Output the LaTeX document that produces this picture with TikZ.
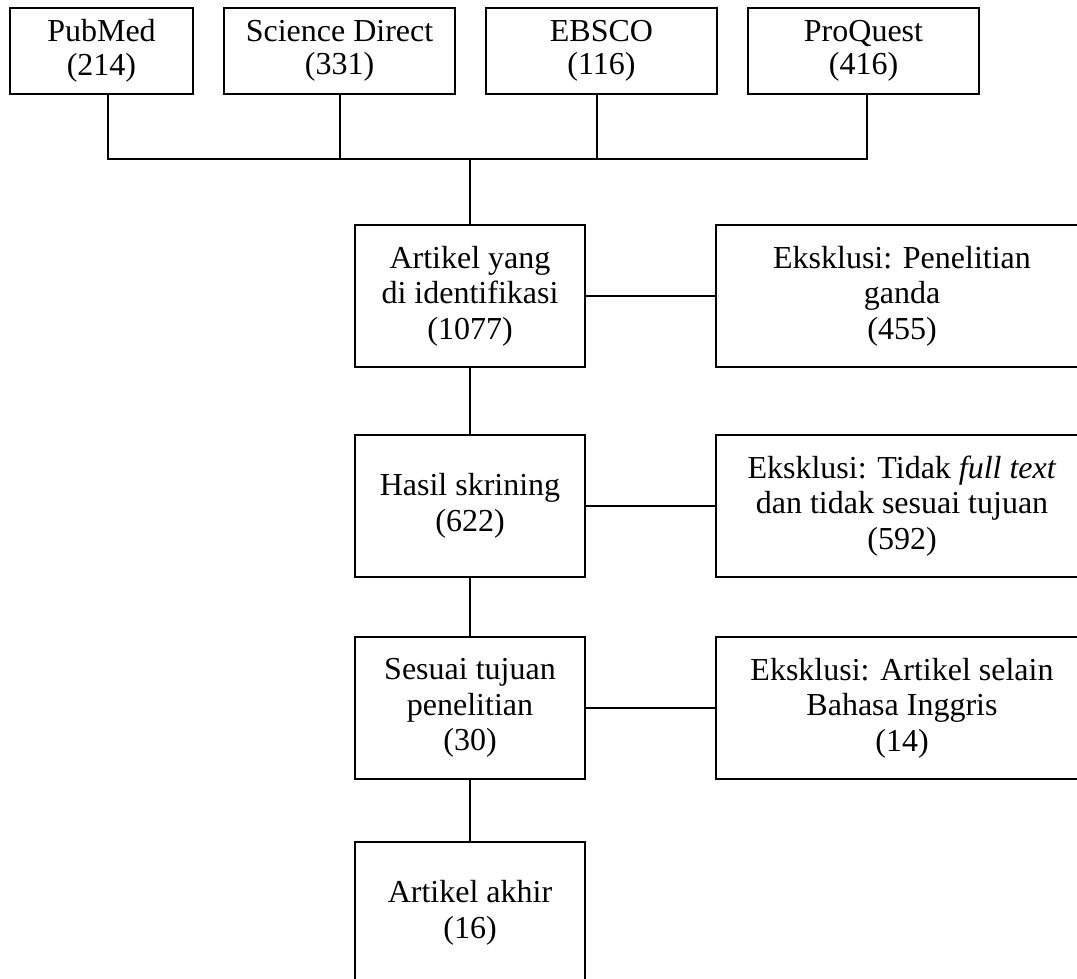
\documentclass[tikz,border=0pt]{standalone}
\usepackage{fontspec}
\setmainfont{Liberation Serif}
\begin{document}
\begin{tikzpicture}[x=1pt,y=-1pt,
  box/.style={draw, line width=1.3pt, inner sep=0pt, align=center, anchor=center},
  topbox/.style={box, minimum height=86pt, font=\fontsize{32}{33.5}\selectfont},
  mainbox/.style={box, minimum width=230pt, minimum height=142pt, font=\fontsize{32}{35.5}\selectfont},
  exbox/.style={box, minimum width=372pt, minimum height=142pt, font=\fontsize{32}{35.5}\selectfont},
  link/.style={line width=1.4pt}]
\clip (0,0) rectangle (1077,978);
\fill[white] (0,0) rectangle (1077,978);
% top sources
\node[topbox, minimum width=183pt] (pub) at (101.5,51) {PubMed\\(214)};
\node[topbox, minimum width=231pt] (sd) at (339.5,51) {Science Direct\\(331)};
\node[topbox, minimum width=231pt] (eb) at (601.5,51) {EBSCO\\(116)};
\node[topbox, minimum width=231pt] (pq) at (863.5,51) {ProQuest\\(416)};
% main column
\node[mainbox] (a1) at (470,296) {Artikel yang\\di identifikasi\\(1077)};
\node[mainbox] (a2) at (470,506) {Hasil skrining\\(622)};
\node[mainbox] (a3) at (470,708) {Sesuai tujuan\\penelitian\\(30)};
\node[mainbox] (a4) at (470,913) {Artikel akhir\\(16)};
% exclusion column
\node[exbox] (e1) at (902,296) {Eksklusi: Penelitian\\ganda\\(455)};
\node[exbox] (e2) at (902,506) {Eksklusi: Tidak \textit{full text}\\dan tidak sesuai tujuan\\(592)};
\node[exbox] (e3) at (902,708) {Eksklusi: Artikel selain\\Bahasa Inggris\\(14)};
% bus
\coordinate (busL) at (108,159);
\coordinate (busR) at (867,159);
\coordinate (busM) at (470,159);
\draw[link] (pub.south -| busL) -- (busL) -- (busR) -- (pq.south -| busR);
\draw[link] ([xshift=0.5pt]sd.south) -- ([xshift=0.5pt]sd.south |- busL);
\draw[link] ([xshift=-4.5pt]eb.south) -- ([xshift=-4.5pt]eb.south |- busL);
\draw[link] (busM) -- (a1.north);
% main flow
\draw[link] (a1) -- (a2);
\draw[link] (a2) -- (a3);
\draw[link] (a3) -- (a4);
% exclusions
\draw[link] (a1.east) -- (a1.east -| e1.west);
\draw[link] (a2.east) -- (a2.east -| e2.west);
\draw[link] (a3.east) -- (a3.east -| e3.west);
\end{tikzpicture}
\end{document}
